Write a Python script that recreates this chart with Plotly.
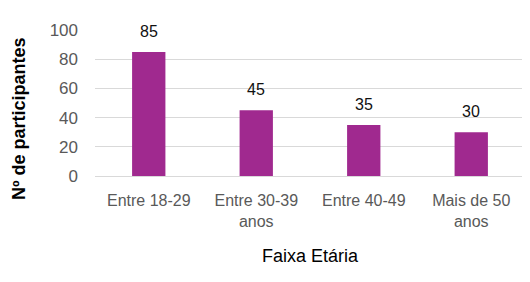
import plotly.graph_objects as go

categories = ["Entre 18-29", "Entre 30-39<br>anos", "Entre 40-49", "Mais de 50<br>anos"]
values = [85, 45, 35, 30]
y_ticks = [0, 20, 40, 60, 80, 100]

fig = go.Figure()
fig.add_trace(go.Bar(
    x=categories, y=values,
    marker=dict(color="#A0298F", line=dict(width=0)),
    width=0.31,
))

for c, v in zip(categories, values):
    fig.add_annotation(x=c, y=v, text=str(v), showarrow=False,
                       yanchor="bottom", yshift=10,
                       font=dict(family="Liberation Sans, Arial", size=16, color="#111111"))

fig.add_annotation(xref="paper", yref="paper", x=0, y=0.39,
                   xanchor="center", yanchor="middle", xshift=-76,
                   text="<b>Nº de participantes</b>", textangle=-90, showarrow=False,
                   font=dict(family="Liberation Sans, Arial", size=18, color="#000000"))

fig.update_layout(
    width=522, height=274,
    margin=dict(l=87, r=5, t=22, b=106),
    paper_bgcolor="white", plot_bgcolor="white",
    showlegend=False,
    font=dict(family="Liberation Sans, Arial", color="#595959"),
    xaxis=dict(
        tickfont=dict(size=16, color="#595959"),
        showline=True, linecolor="#d9d9d9", linewidth=1,
        ticks="",
        ticklabelstandoff=10,
        title=dict(text="Faixa Etária", font=dict(size=18, color="#000000"), standoff=20),
    ),
    yaxis=dict(
        range=[0, 100],
        tickvals=y_ticks,
        tickfont=dict(size=17, color="#595959"),
        gridcolor="#d9d9d9", gridwidth=1,
        zeroline=False,
        ticklabelstandoff=16,
    ),
)

fig.write_html("out.html")
